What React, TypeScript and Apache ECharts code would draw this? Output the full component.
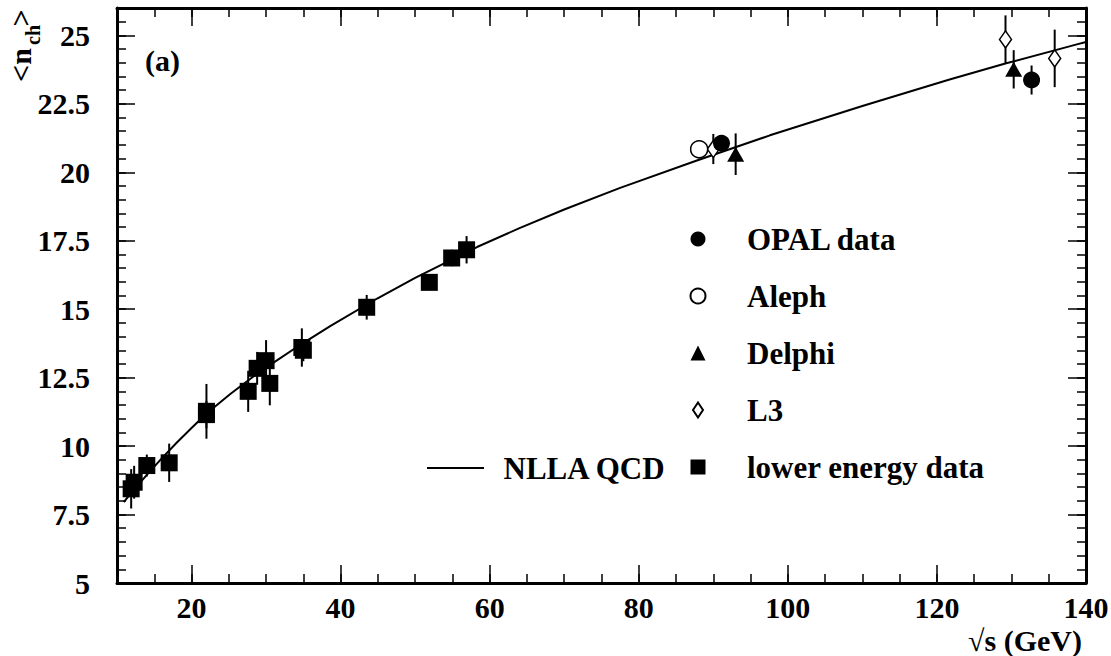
import React, { useEffect, useRef } from 'react';
import * as echarts from 'echarts';

const FONT = '"Liberation Serif", "Times New Roman", serif';

// NLLA QCD curve
const qcdX = [10.9, 12, 14, 16, 18, 20, 20.9, 23, 25.2, 28.3, 31, 34.6, 38.6, 44.9, 50, 58.3, 64, 70, 77.5, 87.7, 97.6, 110, 121.7, 129.3, 138.9, 140];
const qcdY = [7.95, 8.32, 8.95, 9.55, 10.12, 10.66, 10.9, 11.41, 11.9, 12.54, 13.05, 13.7, 14.38, 15.39, 16.14, 17.27, 17.96, 18.64, 19.43, 20.42, 21.35, 22.42, 23.39, 23.98, 24.68, 24.76];

// lower energy data
const lowX = [11.9, 12.3, 14.0, 17.0, 22.0, 22.0, 27.6, 28.8, 30.0, 30.5, 34.8, 35.0, 43.5, 51.9, 54.9, 56.9];
const lowY = [8.44, 8.68, 9.29, 9.39, 11.27, 11.15, 12.0, 12.84, 13.12, 12.29, 13.6, 13.5, 15.07, 15.98, 16.87, 17.17];
const lowErr = [0.72, 0.6, 0.4, 0.7, 1.0, 0.5, 0.75, 0.6, 0.75, 0.8, 0.7, 0.4, 0.45, 0.2, 0.3, 0.5];

// OPAL data
const opalX = [91.1, 132.7];
const opalY = [21.06, 23.37];
const opalErr = [0.15, 0.53];

// Aleph
const alephX = [88.1];
const alephY = [20.84];
const alephErr = [0.15];

// Delphi
const delphiX = [93.0, 130.3];
const delphiY = [20.66, 23.76];
const delphiErr = [0.76, 0.7];

// L3
const l3X = [90.0, 129.2, 135.8];
const l3Y = [20.85, 24.85, 24.16];
const l3Err = [0.55, 0.88, 1.05];

// axis ticks
const xMajorTicks = [20, 40, 60, 80, 100, 120, 140];

const pts = (xs: number[], ys: number[]) => xs.map((x, i) => [x, ys[i]]);
const errPts = (xs: number[], ys: number[], es: number[]) => xs.map((x, i) => [x, ys[i], es[i]]);

const tickStyle = { color: '#000', width: 1.5 };
const labelFont = { fontSize: 30, fontWeight: 'bold' as const, fontFamily: FONT, color: '#000' };

function errorSeries(name: string, data: number[][]) {
  return {
    type: 'custom',
    name,
    xAxisIndex: 0,
    yAxisIndex: 0,
    z: 1,
    data,
    renderItem: (_p: any, api: any) => {
      const x = api.value(0);
      const y = api.value(1);
      const e = api.value(2);
      const a = api.coord([x, y - e]);
      const b = api.coord([x, y + e]);
      return {
        type: 'line',
        shape: { x1: a[0], y1: a[1], x2: b[0], y2: b[1] },
        style: { stroke: '#000', lineWidth: 2 },
      };
    },
  };
}

export default function App() {
  const ref = useRef<HTMLDivElement>(null);
  useEffect(() => {
    const chart = echarts.init(ref.current!, null, { renderer: 'svg' });
    const minorX = (pos: string) => ({
      type: 'value', position: pos, min: 10, max: 140, interval: 5,
      axisLine: { show: true, onZero: false, lineStyle: { color: '#000', width: 3 } },
      axisTick: { show: true, inside: true, length: 9, lineStyle: tickStyle },
      axisLabel: { show: false }, splitLine: { show: false },
    });
    const majorX = (pos: string, labels: boolean) => ({
      type: 'value', position: pos, min: 10, max: 140,
      axisLine: { show: false, onZero: false },
      axisTick: { show: true, inside: true, length: 18, customValues: xMajorTicks, lineStyle: tickStyle },
      axisLabel: labels ? { show: true, customValues: xMajorTicks, margin: 9, ...labelFont } : { show: false },
      splitLine: { show: false },
    });
    const minorY = (pos: string) => ({
      type: 'value', position: pos, min: 5, max: 26, interval: 0.5,
      axisLine: { show: true, onZero: false, lineStyle: { color: '#000', width: 3 } },
      axisTick: { show: true, inside: true, length: 9, lineStyle: tickStyle },
      axisLabel: { show: false }, splitLine: { show: false },
    });
    const majorY = (pos: string, labels: boolean) => ({
      type: 'value', position: pos, min: 5, max: 26, interval: 2.5,
      axisLine: { show: false, onZero: false },
      axisTick: { show: true, inside: true, length: 18, lineStyle: tickStyle },
      axisLabel: labels ? { show: true, margin: 27, showMaxLabel: false, ...labelFont } : { show: false },
      splitLine: { show: false },
    });

    const legendText = {
      fontSize: 31, fontWeight: 'bold', fontFamily: FONT, color: '#000', lineHeight: 31,
    };

    const option: any = {
      animation: false,
      backgroundColor: '#fff',
      grid: { left: 117, right: 25, top: 8, bottom: 73, containLabel: false, outerBoundsMode: 'none' },
      xAxis: [minorX('bottom'), majorX('bottom', true), minorX('top'), majorX('top', false)],
      yAxis: [minorY('left'), majorY('left', true), minorY('right'), majorY('right', false)],
      legend: [
        {
          data: [
            'OPAL data',
            'Aleph',
            'Delphi',
            { name: 'L3', icon: 'path://M5,0L10,7.5L5,15L0,7.5Z' },
            { name: 'lower energy data', icon: 'path://M0,0L13,0L13,13L0,13Z' },
          ],
          orient: 'vertical', left: 689.5, top: 223.5, padding: 0,
          itemWidth: 15, itemHeight: 15, itemGap: 26,
          textStyle: { ...legendText, padding: [0, 0, 0, 36.5] },
          selectedMode: false,
        },
        {
          data: [{ name: 'NLLA QCD', icon: 'rect' }],
          orient: 'vertical', left: 427, top: 452.5, padding: 0,
          itemWidth: 57, itemHeight: 2,
          textStyle: { ...legendText, padding: [0, 0, 0, 14.5] },
          selectedMode: false,
        },
      ],
      graphic: [
        { type: 'text', x: 145, y: 60, style: { text: '(a)', fontSize: 30, fontWeight: 'bold', fontFamily: FONT, fill: '#000', align: 'left', verticalAlign: 'middle' } },
        { type: 'text', x: 1082, y: 640, style: { text: '\u221As (GeV)', fontSize: 30, fontWeight: 'bold', fontFamily: FONT, fill: '#000', align: 'right', verticalAlign: 'middle' } },
        { type: 'text', x: 20, y: 65, rotation: Math.PI / 2, style: { text: '<n', fontSize: 30, fontWeight: 'bold', fontFamily: FONT, fill: '#000', align: 'center', verticalAlign: 'middle' } },
        { type: 'text', x: 33, y: 35, rotation: Math.PI / 2, style: { text: 'ch', fontSize: 20, fontWeight: 'bold', fontFamily: FONT, fill: '#000', align: 'center', verticalAlign: 'middle' } },
        { type: 'text', x: 20, y: 18, rotation: Math.PI / 2, style: { text: '>', fontSize: 30, fontWeight: 'bold', fontFamily: FONT, fill: '#000', align: 'center', verticalAlign: 'middle' } },
      ],
      series: [
        {
          type: 'line', name: 'NLLA QCD', xAxisIndex: 0, yAxisIndex: 0, z: 1,
          data: pts(qcdX, qcdY), symbol: 'none', showSymbol: false, smooth: false,
          lineStyle: { color: '#000', width: 2 }, itemStyle: { color: '#000' },
        },
        errorSeries('errLow', errPts(lowX, lowY, lowErr)),
        errorSeries('errL3', errPts(l3X, l3Y, l3Err)),
        errorSeries('errAleph', errPts(alephX, alephY, alephErr)),
        errorSeries('errOpal', errPts(opalX, opalY, opalErr)),
        errorSeries('errDelphi', errPts(delphiX, delphiY, delphiErr)),
        {
          type: 'scatter', name: 'lower energy data', xAxisIndex: 0, yAxisIndex: 0,
          data: pts(lowX, lowY), symbol: 'rect', symbolSize: 17, symbolKeepAspect: true,
          itemStyle: { color: '#000', opacity: 1 },
        },
        {
          type: 'scatter', name: 'L3', xAxisIndex: 0, yAxisIndex: 0,
          data: pts(l3X, l3Y), symbol: 'diamond', symbolSize: [12, 17], symbolKeepAspect: true,
          itemStyle: { color: '#fff', borderColor: '#000', borderWidth: 1.5, opacity: 1 },
        },
        {
          type: 'scatter', name: 'Aleph', xAxisIndex: 0, yAxisIndex: 0,
          data: pts(alephX, alephY), symbol: 'circle', symbolSize: 17,
          itemStyle: { color: '#fff', borderColor: '#000', borderWidth: 1.5, opacity: 1 },
        },
        {
          type: 'scatter', name: 'OPAL data', xAxisIndex: 0, yAxisIndex: 0,
          data: pts(opalX, opalY), symbol: 'circle', symbolSize: 17,
          itemStyle: { color: '#000', opacity: 1 },
        },
        {
          type: 'scatter', name: 'Delphi', xAxisIndex: 0, yAxisIndex: 0,
          data: pts(delphiX, delphiY), symbol: 'triangle', symbolSize: [17, 15],
          itemStyle: { color: '#000', opacity: 1 },
        },
      ],
    };
    chart.setOption(option);
    return () => chart.dispose();
  }, []);
  return (
    <div
      ref={ref}
      style={{ position: 'absolute', left: 0, top: 0, width: 1111, height: 656, background: '#fff' }}
    />
  );
}
